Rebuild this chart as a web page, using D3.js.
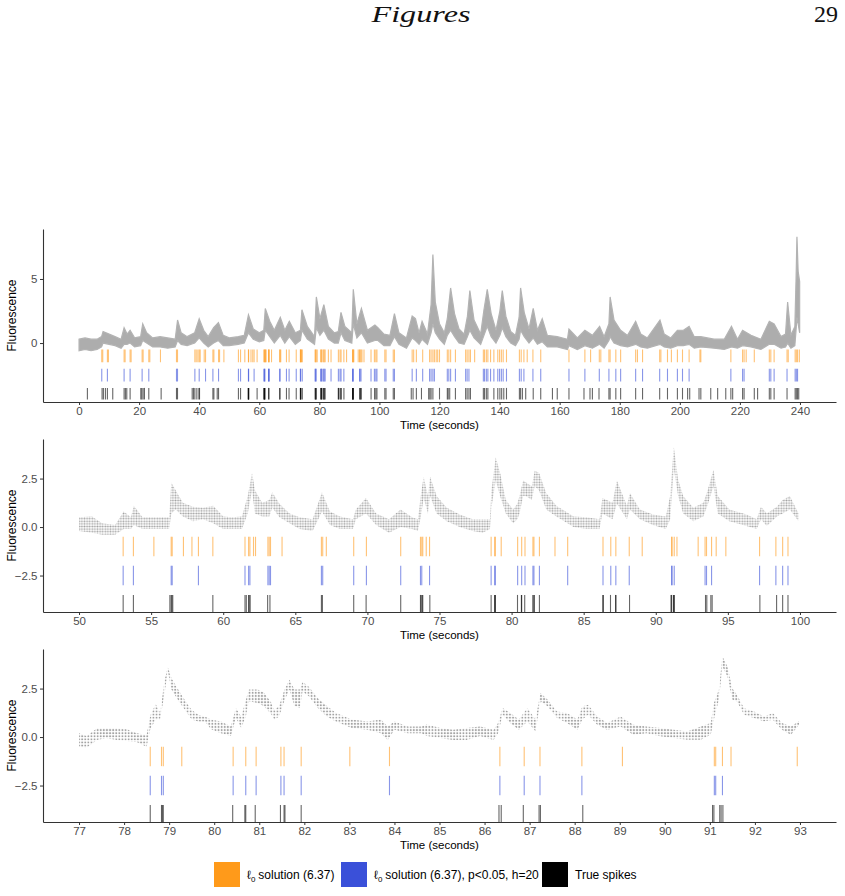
<!DOCTYPE html>
<html lang="en">
<head>
<meta charset="utf-8">
<script src="https://cdn.jsdelivr.net/npm/d3@7"></script>
<style>
  body { margin: 0; background: #fff; }
  svg { display: block; font-family: "Liberation Sans", Arial, sans-serif; }
</style>
<title>Spike inference figure</title>
</head>
<body>
<div id="chart"></div>
<script>
// ---- spike times (seconds) ----
const l0Spikes = [7.56, 7.89, 9.44, 9.78, 15.0, 15.33, 17.0, 17.33, 21.0, 21.33, 23.22, 23.56, 27.11, 32.44, 32.78,
  38.56, 39.0, 39.56, 40.0, 40.33, 41.67, 42.11, 44.56, 44.89, 46.44, 46.78, 48.22,
  53.06, 53.77, 55.19, 56.39, 56.46, 57.24, 57.83, 58.28, 59.28, 61.51, 61.76, 61.85, 62.10, 62.24, 63.10, 63.19, 63.28,
  64.08, 66.81, 66.90, 67.15, 69.05, 69.93, 72.31, 73.68, 73.77, 73.84, 74.08, 74.31,
  78.58, 78.83, 78.87, 79.28, 80.42, 80.70, 80.93, 81.48, 81.55, 81.93, 83.01, 83.89, 86.34, 86.88, 87.23, 88.16, 89.06,
  91.10, 91.13, 91.28, 91.47, 92.94, 93.42, 93.52, 93.87, 94.19, 94.86, 97.20, 98.33, 98.80, 99.17,
  101.8, 102.2, 104.6, 105.0, 110.9, 111.4, 112.3, 114.4, 116.7, 117.2, 117.8, 118.3, 118.9, 119.4, 120.0, 122.6, 123.1,
  123.7, 125.3, 128.7, 129.2, 129.8, 130.3, 131.7, 134.6, 135.0, 135.6, 136.1, 137.0, 138.1, 139.4, 140.0, 140.6, 141.2,
  142.3, 146.6, 147.2, 148.1, 149.2, 151.1, 153.7, 163.1, 168.4, 170.3, 173.2, 173.7, 176.4, 176.8, 178.7, 180.3, 185.3,
  185.9, 187.6, 193.3, 193.7, 195.9, 197.2, 199.2, 200.9, 203.1, 206.7, 207.0, 217.0, 220.9, 221.4, 222.1, 224.8, 229.8,
  230.3, 231.4, 235.7, 236.1, 238.4, 238.8, 239.2, 239.8];

const l0SigSpikes = [7.56, 9.44, 15.0, 17.0, 21.0, 23.22, 32.44, 32.78, 38.56, 40.0, 42.11, 44.56, 46.44,
  53.06, 53.77, 56.39, 56.46, 58.28, 61.51, 61.76, 61.85, 63.10, 63.19, 63.28, 66.81, 66.90, 69.05, 69.93, 72.31,
  73.68, 73.77, 74.31, 78.58, 78.83, 78.87, 80.42, 80.70, 80.93, 81.48, 81.55, 81.93, 83.89, 86.34, 86.88, 87.23,
  88.16, 91.10, 91.13, 91.28, 93.42, 93.52, 93.87, 97.20, 98.33, 98.80, 99.17,
  101.8, 102.2, 104.6, 105.0, 110.9, 112.3, 114.4, 116.7, 117.2, 117.8, 118.3, 122.6, 123.1, 123.7, 125.3, 128.7,
  129.2, 129.8, 134.6, 135.0, 135.6, 136.1, 137.0, 138.1, 139.4, 140.0, 140.6, 141.2, 142.3, 146.6, 147.2, 148.1,
  151.1, 153.7, 163.1, 168.4, 173.2, 176.4, 178.7, 180.3, 185.3, 187.6, 193.3, 195.9, 199.2, 200.9, 203.1, 217.0,
  220.9, 221.4, 229.8, 230.3, 231.4, 235.7, 238.4, 238.8, 239.2];

const trueSpikes = [2.78, 7.67, 8.11, 8.78, 9.44, 11.22, 15.0, 15.44, 15.89, 17.0, 20.56, 20.89, 21.33, 21.78, 23.22,
  27.33, 32.44, 32.78, 37.67, 38.11, 38.56, 39.22, 39.89, 40.11, 44.56, 44.89, 46.0, 46.44,
  53.06, 53.77, 56.30, 56.39, 56.44, 56.50, 59.28, 61.51, 61.60, 61.76, 61.80, 61.87, 63.08, 63.24, 66.81, 66.88,
  69.05, 69.91, 72.31, 73.68, 73.73, 73.80, 73.84, 74.33,
  78.58, 78.83, 78.85, 78.87, 80.41, 80.68, 80.70, 80.91, 81.47, 81.55, 81.57, 81.93, 86.32, 86.37, 86.86, 87.21,
  87.24, 88.18, 91.06, 91.09, 91.22, 91.25, 91.29, 93.45, 93.54, 93.82, 93.91, 97.22, 98.38, 98.80, 99.17,
  101.8, 102.2, 104.6, 105.0, 110.6, 111.2, 112.3, 114.0, 116.4, 116.8, 117.2, 117.8, 120.0, 122.6, 122.9, 123.4,
  125.3, 128.7, 129.2, 129.8, 130.3, 134.6, 135.0, 135.6, 136.1, 138.1, 139.4, 140.1, 140.7, 141.4, 142.3, 146.6,
  147.0, 147.6, 148.7, 151.2, 153.7, 157.6, 159.2, 163.1, 168.1, 170.1, 170.9, 173.1, 176.4, 176.8, 178.7, 180.3,
  185.3, 187.6, 193.3, 195.9, 199.2, 200.9, 202.6, 203.3, 206.4, 207.0, 210.3, 212.6, 215.3, 217.0, 217.6, 220.9,
  221.4, 224.8, 225.9, 229.8, 230.3, 231.4, 235.7, 238.4, 238.8, 239.2, 239.6];

// ---- fluorescence band: [time, lower edge, upper edge] ----
const traceFull = [[0, -0.6, 0.3], [2, -0.5, 0.4], [4, -0.6, 0.3], [6, -0.5, 0.3], [7.5, -0.3, 0.5], [8, 0.0, 0.9],
  [10, -0.1, 0.7], [12, -0.2, 0.5], [14, -0.4, 0.3], [15, -0.1, 1.2], [16, -0.1, 0.7], [17, 0.0, 1.0], [18.5, -0.3, 0.4],
  [20.5, -0.2, 0.5], [21.2, 0.2, 1.5], [22.5, 0.0, 0.8], [24.5, -0.3, 0.4], [27, -0.3, 0.5], [29.5, -0.4, 0.4],
  [32, -0.3, 0.3], [32.8, 0.2, 1.8], [34, -0.1, 0.8], [36, -0.2, 0.5], [38.5, 0.0, 0.8], [40, 0.4, 1.9], [41.5, 0.0, 1.0],
  [43, -0.3, 0.5], [44.8, 0.0, 1.2], [46.4, 0.2, 1.6], [48, -0.2, 0.6], [50, -0.2, 0.4], [53, -0.1, 0.5], [55, 0.0, 0.6],
  [56.4, 0.8, 2.2], [58, 0.3, 1.1], [60, 0.1, 0.8], [61.5, 0.2, 1.0], [62, 1.0, 2.7], [63.5, 0.5, 1.7], [65, 0.0, 1.0],
  [67, 0.6, 2.0], [68.5, 0.0, 1.0], [70, 0.5, 1.7], [72, -0.1, 0.8], [73.7, 0.2, 1.0], [74.2, 1.0, 2.6], [76, 0.3, 1.3],
  [78.4, -0.1, 0.5], [79, 1.2, 3.6], [80.2, 0.6, 1.9], [81.5, 1.0, 3.0], [83, 0.3, 1.3], [85, 0.0, 0.8], [86.3, 0.0, 0.9],
  [87.2, 0.8, 2.4], [88.5, 0.2, 1.3], [90.8, 0.0, 0.8], [91.3, 1.5, 4.2], [92.5, 0.4, 1.5], [94, 0.8, 2.7], [96, 0.0, 1.0],
  [98.5, 0.2, 1.4], [99.5, 0.2, 1.2], [101.5, -0.2, 0.7], [103.5, -0.2, 0.6], [105, 0.5, 2.3], [106.5, -0.1, 0.8],
  [109, -0.4, 0.4], [110.9, 0.4, 2.1], [112, 0.2, 1.9], [113.2, -0.1, 0.8], [114.2, 0.3, 1.7], [116, -0.1, 0.7],
  [117.2, 0.8, 3.0], [117.8, 1.5, 6.9], [118.6, 0.8, 3.2], [120, 0.3, 1.5], [121.6, -0.1, 0.8], [122.6, 0.6, 1.9],
  [123.7, 1.0, 4.3], [125, 0.5, 2.3], [126.5, 0.0, 1.1], [128.2, -0.1, 0.7], [129.3, 0.5, 2.1], [130.1, 1.0, 4.1],
  [131.5, 0.4, 1.8], [133.7, -0.1, 0.7], [134.8, 0.6, 2.6], [135.9, 1.3, 4.2], [137.2, 0.5, 2.3], [138.8, 0.0, 1.0],
  [140.1, 0.6, 2.5], [140.9, 1.2, 4.1], [142.1, 0.5, 2.1], [143.7, 0.0, 0.9], [145.3, -0.2, 0.6], [146.5, 0.3, 2.0],
  [147, 1.0, 4.3], [148.2, 0.5, 2.4], [149.8, 0.0, 1.1], [151.2, 0.4, 2.7], [152.6, -0.1, 1.0], [154.2, 0.1, 1.9],
  [155.9, -0.3, 0.6], [159.2, -0.3, 0.5], [162.6, -0.5, 0.3], [163.1, -0.2, 1.1], [165.9, -0.5, 0.4], [168.4, -0.2, 1.0],
  [170.9, -0.4, 0.6], [173.3, -0.1, 1.3], [174.8, -0.4, 0.5], [176.4, 0.2, 1.5], [176.8, 0.5, 3.6], [178.1, 0.0, 1.8],
  [180.3, -0.2, 1.0], [182.6, -0.3, 0.6], [185.3, -0.1, 1.7], [187, -0.3, 0.7], [189.2, -0.4, 0.4], [193.4, -0.1, 1.8],
  [194.8, -0.3, 0.7], [197, -0.4, 0.4], [199.2, -0.2, 1.0], [201.2, -0.2, 1.0], [203.1, -0.1, 1.3], [204.8, -0.4, 0.5],
  [207, -0.3, 0.5], [211.4, -0.4, 0.3], [214.8, -0.5, 0.3], [217.2, -0.3, 1.3], [219.2, -0.4, 0.3], [220.9, -0.2, 1.0],
  [223.7, -0.3, 0.6], [227, -0.5, 0.3], [229.8, -0.1, 1.7], [231.4, -0.1, 1.5], [233.7, -0.4, 0.5], [235.2, -0.3, 0.7],
  [235.9, 0.0, 3.2], [237, -0.4, 0.6], [238.3, -0.2, 1.3], [238.7, 1.0, 5.0], [239, 2.0, 8.3], [239.4, 1.5, 5.6],
  [239.9, 0.8, 4.8]];

const traceMid = [[50.0, -0.2, 0.5], [50.9, -0.3, 0.55], [51.6, -0.4, 0.2], [52.5, -0.4, 0.1], [53.1, -0.1, 0.8],
  [53.6, -0.1, 0.5], [53.8, 0.1, 1.1], [54.4, -0.1, 0.5], [55.3, -0.1, 0.5], [56.25, -0.1, 0.5], [56.4, 0.7, 2.3],
  [56.7, 0.9, 1.9], [57.2, 0.55, 1.25], [57.9, 0.3, 1.05], [58.6, 0.4, 1.0], [59.3, 0.2, 1.1], [60.0, -0.1, 0.55],
  [60.6, -0.1, 0.5], [61.3, -0.1, 0.55], [61.7, 0.7, 1.6], [62.0, 1.9, 2.8], [62.2, 0.7, 1.9], [62.7, 0.55, 1.25],
  [63.2, 0.55, 1.4], [63.4, 1.0, 1.8], [63.9, 0.5, 1.2], [64.6, 0.2, 0.7], [65.3, -0.1, 0.5], [66.2, -0.2, 0.4],
  [66.85, 0.8, 1.8], [67.4, 0.1, 0.8], [68.1, -0.1, 0.55], [69.0, -0.1, 0.4], [69.2, 0.4, 0.9], [69.9, 0.7, 1.5],
  [70.6, 0.1, 0.7], [71.5, -0.3, 0.4], [72.3, 0.0, 0.9], [73.1, -0.1, 0.5], [73.5, -0.2, 0.4], [73.7, 0.5, 1.6],
  [73.9, 1.5, 2.6], [74.2, 0.7, 1.6], [74.35, 1.6, 2.6], [74.8, 0.7, 1.6], [75.5, 0.3, 1.0], [76.4, 0.0, 0.65],
  [77.3, -0.2, 0.4], [78.0, -0.3, 0.4], [78.5, -0.1, 0.4], [78.6, 1.0, 1.9], [78.9, 2.4, 3.6], [79.2, 1.6, 2.8],
  [79.6, 0.7, 1.4], [80.1, 0.2, 0.9], [80.4, 0.4, 1.2], [80.55, 0.7, 1.6], [80.8, 1.6, 2.4], [81.0, 1.6, 2.3],
  [81.4, 1.4, 2.1], [81.6, 2.1, 2.9], [81.9, 1.9, 2.8], [82.4, 0.9, 1.75], [83.1, 0.55, 1.1], [84.3, 0.0, 0.55],
  [85.2, -0.1, 0.5], [86.1, -0.1, 0.4], [86.3, 0.7, 1.5], [87.0, 0.4, 1.25], [87.3, 1.2, 2.4], [88.0, 0.4, 1.1],
  [88.2, 0.9, 1.75], [88.9, 0.4, 0.9], [89.8, 0.1, 0.65], [90.7, -0.1, 0.55], [91.0, 0.4, 1.6], [91.25, 3.0, 4.15],
  [91.55, 1.6, 2.45], [91.9, 0.7, 1.6], [92.6, 0.3, 1.0], [93.3, 0.55, 1.25], [93.6, 1.15, 1.9], [94.0, 2.1, 2.95],
  [94.3, 0.7, 1.6], [95.1, 0.3, 0.9], [96.3, 0.05, 0.65], [97.0, -0.1, 0.4], [97.3, 0.4, 1.05], [97.7, 0.05, 0.7],
  [98.4, 0.55, 1.05], [98.8, 0.7, 1.4], [99.3, 0.9, 1.6], [99.9, 0.3, 0.7]];

const traceZoom = [[77.0, -0.5, 0.2], [77.17, -0.55, 0.05], [77.4, -0.15, 0.45], [77.6, -0.05, 0.45], [77.84, -0.15, 0.45],
  [78.06, -0.2, 0.4], [78.28, -0.25, 0.2], [78.5, -0.5, 0.1], [78.58, 0.4, 1.1], [78.7, 0.9, 1.7], [78.8, 0.9, 1.25],
  [78.9, 2.3, 2.95], [78.97, 3.4, 3.6], [79.05, 2.45, 3.05], [79.2, 1.9, 2.45], [79.35, 1.4, 1.9], [79.5, 0.9, 1.4],
  [79.65, 0.8, 1.15], [79.8, 0.8, 1.05], [79.93, 0.4, 0.9], [80.15, 0.2, 0.8], [80.37, 0.05, 0.55], [80.48, 1.0, 1.5],
  [80.6, 0.47, 1.05], [80.7, 1.05, 1.9], [80.77, 1.85, 2.45], [80.96, 1.75, 2.45], [81.1, 1.6, 2.3], [81.26, 1.2, 1.8],
  [81.33, 0.9, 1.4], [81.44, 1.05, 1.6], [81.56, 1.9, 2.45], [81.67, 2.45, 2.95], [81.78, 1.6, 2.45], [81.9, 1.5, 2.45],
  [81.96, 2.35, 2.85], [82.1, 2.1, 2.6], [82.3, 1.5, 2.0], [82.5, 1.06, 1.6], [82.7, 0.8, 1.25], [83.05, 0.47, 0.9],
  [83.4, 0.38, 0.8], [83.7, 0.2, 0.9], [83.85, -0.15, 0.55], [84.0, 0.38, 0.8], [84.3, 0.2, 0.55], [84.6, 0.2, 0.55],
  [84.72, 0.05, 0.65], [85.02, -0.05, 0.47], [85.3, -0.15, 0.38], [85.6, -0.15, 0.47], [85.9, 0.05, 0.55],
  [86.2, -0.15, 0.38], [86.3, 0.2, 0.72], [86.4, 1.15, 1.5], [86.57, 0.72, 1.24], [86.76, 0.38, 0.9], [86.95, 0.8, 1.5],
  [87.13, 0.3, 0.9], [87.24, 1.85, 2.27], [87.39, 1.6, 1.95], [87.61, 0.98, 1.32], [87.83, 0.72, 1.24], [88.06, 0.38, 0.9],
  [88.17, 0.9, 1.58], [88.3, 1.15, 1.66], [88.5, 0.64, 1.06], [88.72, 0.38, 0.72], [89.02, 0.55, 1.06], [89.3, 0.12, 0.64],
  [89.6, 0.2, 0.55], [89.9, 0.04, 0.47], [90.2, -0.05, 0.38], [90.5, -0.14, 0.29], [90.8, -0.14, 0.55], [91.02, 0.12, 0.72],
  [91.09, 0.9, 1.75], [91.2, 1.92, 2.44], [91.28, 3.64, 4.15], [91.39, 3.12, 3.64], [91.5, 1.92, 2.5], [91.6, 1.84, 2.18],
  [91.76, 1.15, 1.49], [91.98, 0.98, 1.32], [92.2, 0.81, 1.06], [92.4, 0.89, 1.24], [92.6, 0.38, 0.72], [92.8, 0.12, 0.55],
  [92.98, 0.64, 0.81]];

// ---- axis ticks ----
const ticksFull = [0, 20, 40, 60, 80, 100, 120, 140, 160, 180, 200, 220, 240];
const ticksMid = [50, 55, 60, 65, 70, 75, 80, 85, 90, 95, 100];
const ticksZoom = [77, 78, 79, 80, 81, 82, 83, 84, 85, 86, 87, 88, 89, 90, 91, 92, 93];
const yTicksFull = [0, 5];
const yTicksZoom = [-2.5, 0, 2.5];

// spike rows sit below the trace, in data units
const rows = [
  {spikes: l0Spikes, y0: -0.5, y1: -1.5, color: "#ff9a1a"},
  {spikes: l0SigSpikes, y0: -2, y1: -3, color: "#3a50d9"},
  {spikes: trueSpikes, y0: -3.5, y1: -4.4, color: "#000000"}
];

const legendItems = [
  {label: "solution (6.37)", ell: true, color: "#ff9a1a"},
  {label: "solution (6.37), p<0.05, h=20", ell: true, color: "#3a50d9"},
  {label: "True spikes", ell: false, color: "#000000"}
];

const W = 845, H = 896;
const LEFT = 43, RIGHT = 836;

const svg = d3.select("#chart").append("svg").attr("width", W).attr("height", H);
svg.append("rect").attr("width", W).attr("height", H).attr("fill", "#fff");

const defs = svg.append("defs");
[["dotsMid", 2.6, 0.95], ["dotsZoom", 3.1, 1.0]].forEach(([id, s, r]) => {
  const p = defs.append("pattern").attr("id", id).attr("patternUnits", "userSpaceOnUse")
    .attr("width", s).attr("height", s);
  p.append("circle").attr("cx", s / 2).attr("cy", s / 2).attr("r", r).attr("fill", "#a3a3a3");
});

// page header
svg.append("text").attr("x", 421).attr("y", 22).attr("text-anchor", "middle")
  .attr("font-family", "Liberation Serif, serif").attr("font-style", "italic").attr("font-size", 24)
  .attr("textLength", 99).attr("lengthAdjust", "spacingAndGlyphs").attr("fill", "#111").text("Figures");
svg.append("text").attr("x", 838).attr("y", 22).attr("text-anchor", "end")
  .attr("font-family", "Liberation Serif, serif").attr("font-size", 24).attr("fill", "#111").text("29");

const panels = [
  {trace: traceFull, span: [0, 240], xDomain: [-12, 252], yDomain: [-4.6, 8.9], top: 229, bottom: 402,
   xTicks: ticksFull, yTicks: yTicksFull, yFmt: d3.format("d"), fill: "#adadad"},
  {trace: traceMid, span: [50, 100], xDomain: [47.5, 102.5], yDomain: [-4.38, 4.54], top: 439, bottom: 612,
   xTicks: ticksMid, yTicks: yTicksZoom, yFmt: d3.format(".1f"), fill: "url(#dotsMid)"},
  {trace: traceZoom, span: [77, 93], xDomain: [76.2, 93.8], yDomain: [-4.38, 4.54], top: 649, bottom: 822,
   xTicks: ticksZoom, yTicks: yTicksZoom, yFmt: d3.format(".1f"), fill: "url(#dotsZoom)"}
];

panels.forEach(p => {
  const x = d3.scaleLinear().domain(p.xDomain).range([LEFT, RIGHT]);
  const y = d3.scaleLinear().domain(p.yDomain).range([p.bottom, p.top]);
  const g = svg.append("g");

  // trace band
  const area = d3.area().x(d => x(d[0])).y0(d => y(d[1])).y1(d => y(d[2])).curve(d3.curveLinear);
  g.append("path").datum(p.trace).attr("d", area).attr("fill", p.fill)
    .attr("stroke", p.fill === "#adadad" ? "#b3b3b3" : "none").attr("stroke-width", 1.2);

  // spike rows
  rows.forEach(r => {
    g.append("g").selectAll("line")
      .data(r.spikes.filter(t => t >= p.span[0] && t <= p.span[1]))
      .join("line")
      .attr("x1", d => x(d)).attr("x2", d => x(d))
      .attr("y1", y(r.y0)).attr("y2", y(r.y1))
      .attr("stroke", r.color).attr("stroke-width", 1.1).attr("stroke-opacity", 0.6);
  });

  // axes
  const xAxis = d3.axisBottom(x).tickValues(p.xTicks).tickSize(3).tickSizeOuter(0).tickPadding(2)
    .tickFormat(d3.format("d"));
  const yAxis = d3.axisLeft(y).tickValues(p.yTicks).tickSize(3).tickSizeOuter(0).tickPadding(2.5)
    .tickFormat(p.yFmt);
  const gx = g.append("g").attr("transform", `translate(0,${p.bottom})`).call(xAxis);
  const gy = g.append("g").attr("transform", `translate(${LEFT},0)`).call(yAxis);
  [gx, gy].forEach(a => {
    a.select(".domain").attr("stroke", "#333").attr("stroke-width", 1.1);
    a.selectAll(".tick line").attr("stroke", "#333");
    a.selectAll(".tick text").attr("fill", "#4d4d4d").attr("font-size", 11.5)
      .attr("font-family", "Liberation Sans, Arial, sans-serif");
  });

  g.append("text").attr("x", (LEFT + RIGHT) / 2).attr("y", p.bottom + 26.5).attr("text-anchor", "middle")
    .attr("font-size", 11.5).attr("fill", "#000").text("Time (seconds)");
  g.append("text").attr("transform", `translate(16,${(p.top + p.bottom) / 2}) rotate(-90)`)
    .attr("text-anchor", "middle").attr("font-size", 12).attr("fill", "#000").text("Fluorescence");
});

// legend
const legend = svg.append("g").attr("transform", "translate(0,862)");
legend.append("rect").attr("x", 200).attr("y", -8).attr("width", 450).attr("height", 38).attr("fill", "#fff");
const legendX = [214, 341, 542];
legendItems.forEach((d, i) => {
  legend.append("rect").attr("x", legendX[i]).attr("y", 0).attr("width", 26).attr("height", 25).attr("fill", d.color);
  const t = legend.append("text").attr("x", legendX[i] + 33).attr("y", 17).attr("font-size", 12).attr("fill", "#000");
  if (d.ell) {
    t.append("tspan").text("\u2113");
    t.append("tspan").attr("dy", 3).attr("font-size", 8).text("0");
    t.append("tspan").attr("dy", -3).attr("dx", 3).text(d.label);
  } else {
    t.text(d.label);
  }
});
</script>
</body>
</html>
